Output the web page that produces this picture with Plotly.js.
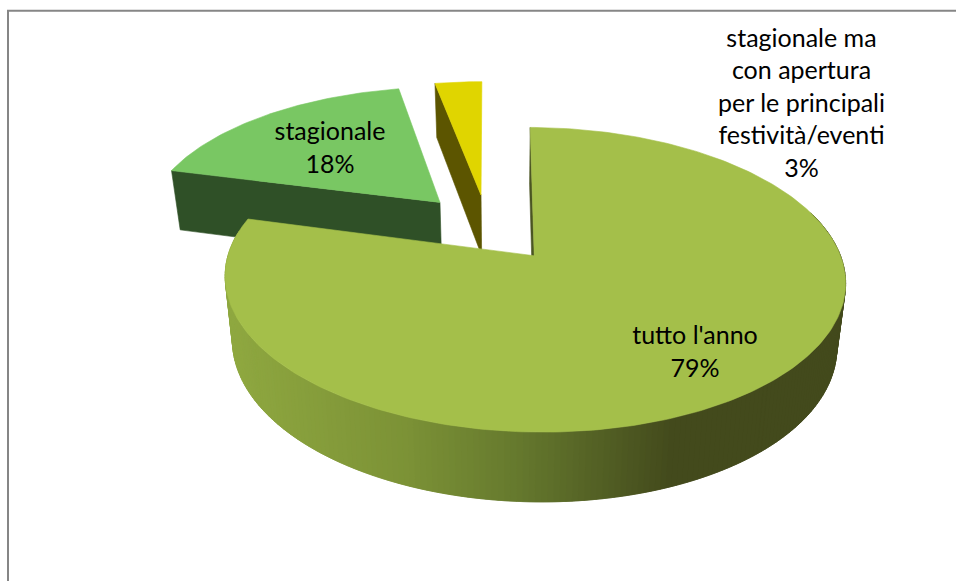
<!DOCTYPE html>
<html>
<head>
<meta charset="utf-8">
<script src="https://cdn.plot.ly/plotly-3.0.1.min.js"></script>
<style>html,body{margin:0;padding:0;background:#fff;overflow:hidden}#chart{width:956px;height:581px}</style>
</head>
<body>
<div id="chart"></div>
<script>
// Data
var categories = ["tutto l'anno", "stagionale", "stagionale ma<br>con apertura<br>per le principali<br>festività/eventi"];
var percents = [79, 18, 3];
var topColors = ["#a4bf4a", "#79c763", "#e0d500"];
var cutColors = ["#4b5523", "#2f5027", "#5c5500"];
var labelX = [695, 330, 801.5];
var labelY = [354, 150, 105.5];
var pull = [0.249, 0.24, 0.24];
var turn = [0.5, 0, 0];
var nudgeX = [0.5, 0, 0];
var nudgeY = [-1.5, -2.5, -1.5];

// Oblique view of the tilted, exploded disc (pixel axes 0..956, 0..581)
var cx = 487.5, cy = 228.7, A = 297, B = 139.7, k = 0.153;
var sx = 505, shrink = 0.974;

function top3d(u, v) {
  var w = 1 + k * v;
  return [cx + A * u / w, cy - B * v / w];
}
function bottom3d(u, v) {
  var p = top3d(u, v);
  return [sx + (p[0] - sx) * shrink, p[1] + 62 - 6.5 * v];
}
function dir(deg) {
  var r = deg * Math.PI / 180;
  return [Math.sin(r), Math.cos(r)];
}
function poly(points, color, i) {
  return {
    type: "scatter", mode: "lines", fill: "toself", fillcolor: color,
    x: points.map(function (p) { return p[0] + nudgeX[i]; }).concat([points[0][0] + nudgeX[i]]),
    y: points.map(function (p) { return p[1] + nudgeY[i]; }).concat([points[0][1] + nudgeY[i]]),
    line: { color: color, width: 0.6 }, hoverinfo: "skip", showlegend: false
  };
}
function lerp(a, b, t) { return a + (b - a) * t; }
var gradX = [225, 400, 510, 670, 850];
var gradC = [[143, 168, 64], [124, 146, 54], [102, 122, 46], [67, 74, 28], [67, 74, 28]];
function shade(x) {
  for (var i = 0; i < gradX.length - 1; i++) {
    if (x <= gradX[i + 1]) {
      var t = Math.max(0, (x - gradX[i]) / (gradX[i + 1] - gradX[i]));
      return "rgb(" + gradC[i].map(function (c, j) { return Math.round(lerp(c, gradC[i + 1][j], t)); }).join(",") + ")";
    }
  }
  return "rgb(67,74,28)";
}

// Slices built from the percentages
var total = percents.reduce(function (a, b) { return a + b; }, 0);
var slices = [], acc = 0;
percents.forEach(function (p, i) {
  var a0 = acc + turn[i], a1 = acc + p / total * 360 + turn[i];
  acc += p / total * 360;
  var m = dir((a0 + a1) / 2);
  slices.push({ a0: a0, a1: a1, ou: m[0] * pull[i], ov: m[1] * pull[i] });
});
function rim(s, deg) {
  var d = dir(deg);
  return [s.ou + d[0], s.ov + d[1]];
}
function arc(s, fn) {
  var pts = [], n = Math.ceil(s.a1 - s.a0);
  for (var i = 0; i <= n; i++) {
    var q = rim(s, lerp(s.a0, s.a1, i / n));
    pts.push(fn(q[0], q[1]));
  }
  return pts;
}
function cutFace(s, deg) {
  var q = rim(s, deg);
  return [top3d(s.ou, s.ov), top3d(q[0], q[1]), bottom3d(q[0], q[1]), bottom3d(s.ou, s.ov)];
}

var traces = [];
// back slices first: the radial face toward the viewer, then the top
[1, 2].forEach(function (i) {
  var s = slices[i];
  traces.push(poly(cutFace(s, s.a0), cutColors[i], i));
  traces.push(poly([top3d(s.ou, s.ov)].concat(arc(s, top3d)), topColors[i], i));
});
// the large slice: cut face, shaded rim strips (front part only), then top
var big = slices[0];
traces.push(poly(cutFace(big, big.a0), cutColors[0], 0));
var topArc = arc(big, top3d), botArc = arc(big, bottom3d);
for (var j = 0; j < topArc.length - 1; j++) {
  var deg = lerp(big.a0, big.a1, j / (topArc.length - 1));
  if (deg < 72 || deg > 278) continue;
  var e = Math.min(j + 2, topArc.length - 1);
  traces.push(poly([topArc[j], topArc[e], botArc[e], botArc[j]],
    shade((topArc[j][0] + topArc[e][0]) / 2), 0));
}
traces.push(poly([top3d(big.ou, big.ov)].concat(topArc), topColors[0], 0));

// labels
traces.push({
  type: "scatter", mode: "text", x: labelX, y: labelY,
  text: categories.map(function (c, i) { return c + "<br>" + percents[i] + "%"; }),
  textposition: "middle center",
  textfont: { family: "Lato, 'Open Sans', sans-serif", size: 25, color: "#000" },
  hoverinfo: "skip", showlegend: false
});

var layout = {
  width: 956, height: 581,
  margin: { l: 0, r: 0, t: 0, b: 0 },
  paper_bgcolor: "#fff", plot_bgcolor: "#fff",
  showlegend: false,
  xaxis: { range: [0, 956], visible: false, fixedrange: true },
  yaxis: { range: [581, 0], visible: false, fixedrange: true },
  shapes: [
    { type: "line", xref: "x", yref: "y", x0: 7, y0: 10.7, x1: 956, y1: 10.7, line: { color: "#868686", width: 2 } },
    { type: "line", xref: "x", yref: "y", x0: 8, y0: 10, x1: 8, y1: 581, line: { color: "#868686", width: 2 } }
  ]
};
Plotly.newPlot("chart", traces, layout, { displayModeBar: false, staticPlot: true });
</script>
</body>
</html>
